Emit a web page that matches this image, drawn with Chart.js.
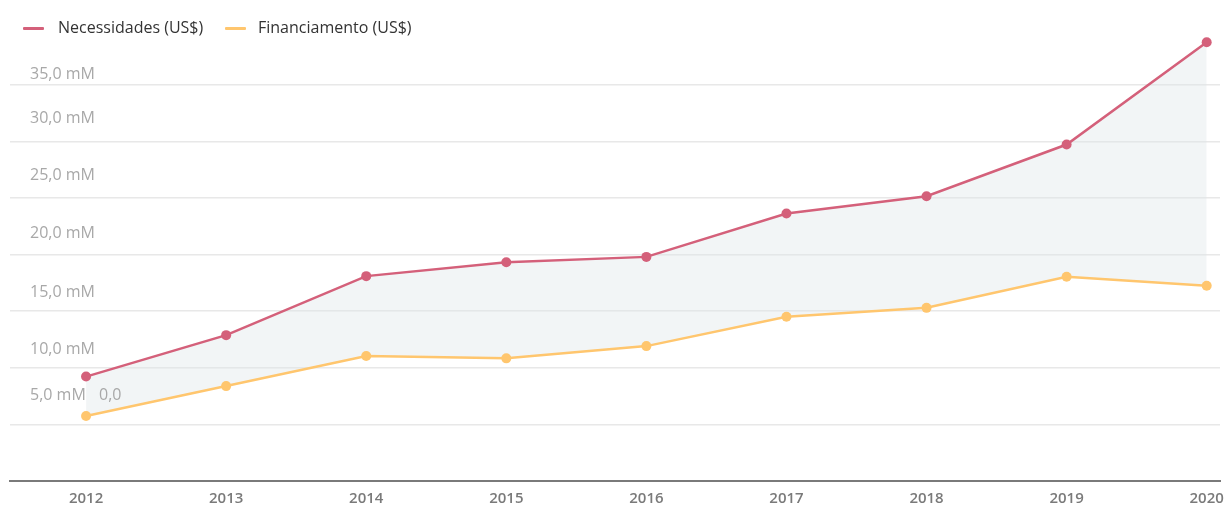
<!DOCTYPE html>
<html lang="pt">
<head>
<meta charset="utf-8">
<title>Necessidades e Financiamento</title>
<script src="https://cdn.jsdelivr.net/npm/chart.js@4.4.1/dist/chart.umd.min.js"></script>
<style>
    html, body { margin: 0; padding: 0; background: #fff; }
    #wrap { position: relative; width: 1226px; height: 505px; }
    #legend { position: absolute; top: 0; left: 0; font-family: "Open Sans", sans-serif; font-size: 16px; color: #333; }
    .item { position: absolute; top: 16px; white-space: nowrap; line-height: 22px; }
    .swatch { position: absolute; top: 27px; width: 21px; height: 3px; border-radius: 1px; }
</style>
</head>
<body>
<div id="wrap">
    <canvas id="chart" width="1226" height="505"></canvas>
    <div id="legend">
        <span class="swatch" style="left:23px;background:#d4607a"></span>
        <span class="item" style="left:58px">Necessidades (US$)</span>
        <span class="swatch" style="left:225px;background:#ffc66e"></span>
        <span class="item" style="left:258px">Financiamento (US$)</span>
    </div>
</div>
<script>
const years = [2012, 2013, 2014, 2015, 2016, 2017, 2018, 2019, 2020];
const necessidades = [9.22, 12.88, 18.09, 19.32, 19.79, 23.62, 25.15, 29.71, 38.74];
const financiamento = [5.74, 8.38, 11.03, 10.83, 11.91, 14.5, 15.29, 18.03, 17.24];
const yTickValues = [0, 5, 10, 15, 20, 25, 30, 35];
const yTickLabels = ['0,0', '5,0 mM', '10,0 mM', '15,0 mM', '20,0 mM', '25,0 mM', '30,0 mM', '35,0 mM'];

// labels sit above their grid line, not centred on it
const yLabelNudge = { 5: -29, 10: -18, 15: -19, 20: -21, 25: -22, 30: -23, 35: -10 };

const yLabelPlugin = {
    id: 'yLabels',
    afterDatasetsDraw(chart) {
        const { ctx, chartArea, scales: { y } } = chart;
        ctx.save();
        ctx.font = '16px "Open Sans"';
        ctx.fillStyle = '#a8a8a8';
        ctx.textAlign = 'left';
        ctx.textBaseline = 'middle';
        yTickValues.forEach((v, i) => {
            if (v === 0) {
                // the zero label ends up next to the 5,0 one
                ctx.fillText(yTickLabels[i], chartArea.left + 89, y.getPixelForValue(5) + yLabelNudge[5]);
            } else {
                ctx.fillText(yTickLabels[i], chartArea.left + 20, y.getPixelForValue(v) + yLabelNudge[v]);
            }
        });
        ctx.restore();
    }
};

const ctx = document.getElementById('chart');

new Chart(ctx, {
    type: 'line',
    data: {
        datasets: [{
            label: 'Necessidades (US$)',
            data: years.map((yr, i) => ({ x: yr, y: necessidades[i] })),
            borderColor: '#d4607a',
            backgroundColor: 'rgba(222, 230, 233, 0.4)',
            pointBackgroundColor: '#d4607a',
            pointBorderWidth: 0,
            pointRadius: 5,
            borderWidth: 2.5,
            fill: '+1',
            clip: false
        }, {
            label: 'Financiamento (US$)',
            data: years.map((yr, i) => ({ x: yr, y: financiamento[i] })),
            borderColor: '#ffc66e',
            backgroundColor: '#ffc66e',
            pointBackgroundColor: '#ffc66e',
            pointBorderWidth: 0,
            pointRadius: 5,
            borderWidth: 2.5,
            fill: false,
            clip: false
        }]
    },
    options: {
        responsive: false,
        animation: false,
        layout: { padding: { left: 10, right: 6, top: 28, bottom: -4 } },
        plugins: {
            legend: { display: false },
            tooltip: { enabled: false },
            filler: { drawTime: 'beforeDatasetsDraw' }
        },
        scales: {
            x: {
                type: 'linear',
                min: 2011.457,
                max: 2020.095,
                grid: { display: false },
                border: { display: true, color: '#7a7a7a', width: 2 },
                ticks: {
                    stepSize: 1,
                    includeBounds: false,
                    maxRotation: 0,
                    padding: 1,
                    color: '#7a7a7a',
                    font: { family: 'Open Sans', size: 15, weight: '600' },
                    callback: v => String(v)
                }
            },
            y: {
                min: 0,
                max: 40,
                border: { display: false },
                grid: {
                    drawTicks: false,
                    lineWidth: 1.5,
                    color: (c) => (c.tick.value === 0 || c.tick.value === 40) ? 'transparent' : '#e8e8e8'
                },
                ticks: { stepSize: 5, display: false }
            }
        }
    },
    plugins: [yLabelPlugin]
});
</script>
</body>
</html>
